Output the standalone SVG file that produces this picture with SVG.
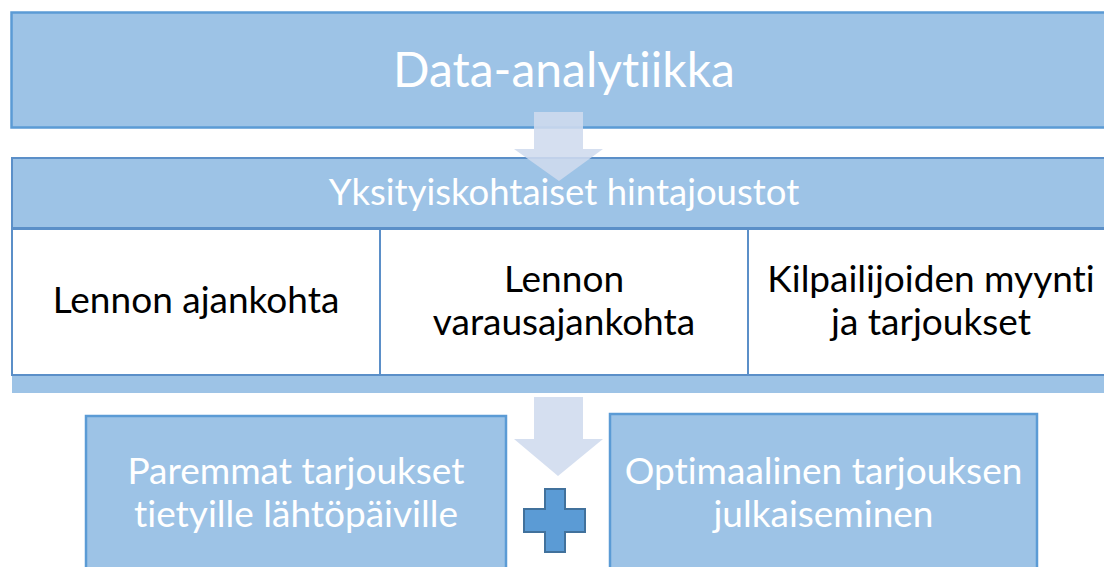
<svg xmlns="http://www.w3.org/2000/svg" width="1104" height="567" viewBox="0 0 1104 567">
  <style>
    .box { fill: #9DC3E6; stroke: #5B9BD5; stroke-width: 2.5; }
    .band { fill: #9DC3E6; stroke: #5B8FC8; stroke-width: 2; }
    .cell { fill: #FFFFFF; stroke: #5B8FC8; stroke-width: 2; }
    .arrow { fill: #CFDBEE; fill-opacity: 0.88; }
    .plus { fill: #5B9BD5; stroke: #41719C; stroke-width: 2; }
    text { font-variant-ligatures: none; font-feature-settings: "liga" 0, "clig" 0; }
    .wt { fill: #FFFFFF; font-family: Lato, "Open Sans", "Liberation Sans", sans-serif; text-anchor: middle; }
    .bt { fill: #000000; font-family: Lato, "Open Sans", "Liberation Sans", sans-serif; text-anchor: middle; }
  </style>
  <rect width="1104" height="567" fill="#FFFFFF"/>

  <g id="data-analytiikka">
    <rect class="box" x="11.5" y="12.5" width="1106" height="115"/>
    <text class="wt" x="564" y="87" font-size="48">Data-analytiikka</text>
  </g>

  <g id="hintajoustot">
    <rect class="band" x="12" y="158" width="1105" height="70"/>
    <text class="wt" x="564" y="205" font-size="36.5">Yksityiskohtaiset hintajoustot</text>
    <rect x="12" y="375" width="1105" height="18" fill="#9DC3E6"/>
  </g>

  <g id="lennon-ajankohta">
    <rect class="cell" x="12" y="229" width="368" height="146"/>
    <text class="bt" x="196" y="313" font-size="37">Lennon ajankohta</text>
  </g>

  <g id="lennon-varausajankohta">
    <rect class="cell" x="380" y="229" width="368" height="146"/>
    <text class="bt" x="564" y="292" font-size="37">Lennon</text>
    <text class="bt" x="564" y="335" font-size="37">varausajankohta</text>
  </g>

  <g id="kilpailijat">
    <rect class="cell" x="748" y="229" width="369" height="146"/>
    <text class="bt" x="931" y="292" font-size="37">Kilpailijoiden myynti</text>
    <text class="bt" x="931" y="335" font-size="37">ja tarjoukset</text>
  </g>

  <g id="paremmat-tarjoukset">
    <rect class="box" x="86" y="416" width="420" height="160"/>
    <text class="wt" x="296" y="484" font-size="37">Paremmat tarjoukset</text>
    <text class="wt" x="296" y="527" font-size="37">tietyille lähtöpäiville</text>
  </g>

  <g id="optimaalinen-julkaisu">
    <rect class="box" x="610" y="414" width="427" height="162"/>
    <text class="wt" x="823.5" y="484" font-size="37">Optimaalinen tarjouksen</text>
    <text class="wt" x="823.5" y="527" font-size="37">julkaiseminen</text>
  </g>

  <g id="connectors">
    <polygon class="arrow" points="534,112 583,112 583,149 603,149 559,181 514,149 534,149"/>
    <polygon class="arrow" points="534,397 583,397 583,439 603,439 558,476 514,439 534,439"/>
    <polygon class="plus" points="545,489 565,489 565,509 585,509 585,532 565,532 565,552 545,552 545,532 524,532 524,509 545,509"/>
  </g>
</svg>
